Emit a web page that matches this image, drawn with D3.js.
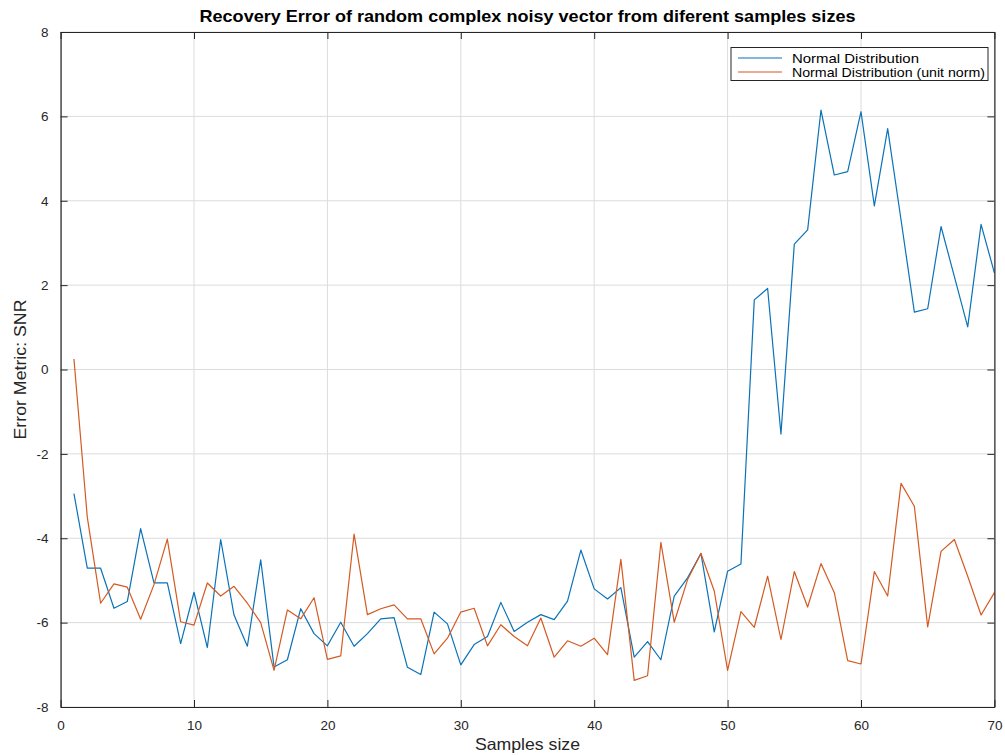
<!DOCTYPE html>
<html>
<head>
<meta charset="utf-8">
<script src="https://cdn.jsdelivr.net/npm/d3@7"></script>
<style>
  html, body { margin: 0; padding: 0; background: #fff; }
  svg { display: block; font-family: "Liberation Sans", Arial, sans-serif; }
</style>
</head>
<body>
<svg id="chart" width="1005" height="755"></svg>
<script>
// Sample sizes 1..70
const samples = [
  1,2,3,4,5,6,7,8,9,10,11,12,13,14,15,16,17,18,19,20,
  21,22,23,24,25,26,27,28,29,30,31,32,33,34,35,36,37,38,39,40,
  41,42,43,44,45,46,47,48,49,50,51,52,53,54,55,56,57,58,59,60,
  61,62,63,64,65,66,67,68,69,70
];

// SNR for the plain normal distribution
const snrNormal = [
  -2.94,-4.71,-4.71,-5.66,-5.50,-3.77,-5.06,-5.06,-6.50,-5.28,
  -6.59,-4.03,-5.82,-6.56,-4.51,-7.05,-6.88,-5.67,-6.26,-6.55,
  -5.99,-6.56,-6.26,-5.91,-5.88,-7.06,-7.23,-5.75,-6.03,-7.00,
  -6.52,-6.33,-5.52,-6.21,-5.99,-5.81,-5.93,-5.49,-4.28,-5.20,
  -5.44,-5.17,-6.82,-6.45,-6.88,-5.37,-4.94,-4.36,-6.22,-4.78,
  -4.61,1.65,1.92,-1.53,2.97,3.31,6.15,4.61,4.69,6.11,
  3.88,5.71,3.55,1.36,1.44,3.39,2.20,1.01,3.44,2.29
];

// SNR for the normal distribution scaled to unit norm
const snrUnitNorm = [
  0.25,-3.50,-5.54,-5.08,-5.16,-5.92,-5.10,-4.02,-5.98,-6.06,
  -5.06,-5.37,-5.14,-5.54,-6.00,-7.13,-5.70,-5.91,-5.41,-6.87,
  -6.79,-3.90,-5.81,-5.67,-5.58,-5.91,-5.91,-6.74,-6.37,-5.75,
  -5.66,-6.55,-6.05,-6.33,-6.55,-5.89,-6.82,-6.43,-6.56,-6.37,
  -6.76,-4.50,-7.37,-7.26,-4.10,-5.99,-4.98,-4.36,-5.25,-7.13,
  -5.74,-6.11,-4.90,-6.40,-4.79,-5.63,-4.60,-5.29,-6.90,-6.98,
  -4.79,-5.37,-2.70,-3.24,-6.10,-4.31,-4.03,-4.90,-5.82,-5.29
];

const xTicks = [0,10,20,30,40,50,60,70];
const yTicks = [-8,-6,-4,-2,0,2,4,6,8];

const seriesNames = ["Normal Distribution", "Normal Distribution (unit norm)"];
const seriesColors = ["#0a72b8", "#d45a22"];

const titleText = "Recovery Error of random complex noisy vector from diferent samples sizes";
const xLabel = "Samples size";
const yLabel = "Error Metric: SNR";

const svg = d3.select("#chart");
const plotLeft = 60.6, plotRight = 994.4, plotTop = 32, plotBottom = 707;
const axisColor = "#262626";

const x = d3.scaleLinear().domain([0, 70]).range([plotLeft, plotRight]);
const y = d3.scaleLinear().domain([-8, 8]).range([plotBottom, plotTop]);

// grid
const grid = svg.append("g");
grid.selectAll("line.gx").data(xTicks).join("line")
  .attr("class", "gx")
  .attr("x1", d => x(d)).attr("x2", d => x(d))
  .attr("y1", plotTop).attr("y2", plotBottom)
  .attr("stroke", "#dcdcdc").attr("stroke-width", 1);
grid.selectAll("line.gy").data(yTicks).join("line")
  .attr("class", "gy")
  .attr("y1", d => y(d)).attr("y2", d => y(d))
  .attr("x1", plotLeft).attr("x2", plotRight)
  .attr("stroke", "#dcdcdc").attr("stroke-width", 1);

// series lines
const line = d3.line().x((d, i) => x(samples[i])).y(d => y(d));
[snrNormal, snrUnitNorm].forEach((vals, k) => {
  svg.append("path")
    .datum(vals)
    .attr("d", line)
    .attr("fill", "none")
    .attr("stroke", seriesColors[k])
    .attr("stroke-width", 1.2)
    .attr("stroke-linejoin", "round");
});

// axes (box with inward ticks on all four sides)
const tickLen = 7;
const fmt = d => String(d);
const xAxisB = d3.axisBottom(x).tickValues(xTicks).tickFormat(fmt).tickSizeInner(-tickLen).tickSizeOuter(0).tickPadding(tickLen + 6);
const xAxisT = d3.axisTop(x).tickValues(xTicks).tickSizeInner(-tickLen).tickSizeOuter(0).tickFormat("");
const yAxisL = d3.axisLeft(y).tickValues(yTicks).tickFormat(fmt).tickSizeInner(-tickLen).tickSizeOuter(0).tickPadding(tickLen + 5);
const yAxisR = d3.axisRight(y).tickValues(yTicks).tickSizeInner(-tickLen).tickSizeOuter(0).tickFormat("");

function styleAxis(g) {
  g.select(".domain").attr("stroke", axisColor).attr("stroke-width", 1.2);
  g.selectAll(".tick line").attr("stroke", axisColor).attr("stroke-width", 1);
  g.selectAll(".tick text").attr("fill", axisColor).style("font-size", "13.5px")
    .style("font-family", "'Liberation Sans', Arial, sans-serif");
}
svg.append("g").attr("transform", `translate(0,${plotBottom})`).call(xAxisB).call(styleAxis);
svg.append("g").attr("transform", `translate(0,${plotTop})`).call(xAxisT).call(styleAxis);
svg.append("g").attr("transform", `translate(${plotLeft},0)`).call(yAxisL).call(styleAxis);
svg.append("g").attr("transform", `translate(${plotRight},0)`).call(yAxisR).call(styleAxis);

// title and axis labels
svg.append("text")
  .attr("x", (plotLeft + plotRight) / 2).attr("y", 22)
  .attr("text-anchor", "middle")
  .attr("font-weight", "bold")
  .attr("font-size", 16.5)
  .attr("textLength", 656)
  .attr("lengthAdjust", "spacingAndGlyphs")
  .attr("fill", "#000")
  .text(titleText);

svg.append("text")
  .attr("x", (plotLeft + plotRight) / 2).attr("y", 750)
  .attr("text-anchor", "middle")
  .attr("font-size", 16.5)
  .attr("textLength", 105)
  .attr("lengthAdjust", "spacingAndGlyphs")
  .attr("fill", axisColor)
  .text(xLabel);

svg.append("text")
  .attr("transform", `translate(26,${(plotTop + plotBottom) / 2}) rotate(-90)`)
  .attr("text-anchor", "middle")
  .attr("font-size", 16.5)
  .attr("textLength", 140)
  .attr("lengthAdjust", "spacingAndGlyphs")
  .attr("fill", axisColor)
  .text(yLabel);

// legend
const lg = svg.append("g");
lg.append("rect")
  .attr("x", 731).attr("y", 47.5).attr("width", 257).attr("height", 33)
  .attr("fill", "#fff").attr("stroke", axisColor).attr("stroke-width", 1);
const legendWidths = [127, 193];
seriesNames.forEach((name, k) => {
  const yy = 58 + k * 14;
  lg.append("line")
    .attr("x1", 738).attr("x2", 782).attr("y1", yy).attr("y2", yy)
    .attr("stroke", seriesColors[k]).attr("stroke-width", 1.2);
  lg.append("text")
    .attr("x", 792).attr("y", yy + 4.5)
    .attr("font-size", 13)
    .attr("textLength", legendWidths[k])
    .attr("lengthAdjust", "spacingAndGlyphs")
    .attr("fill", "#000")
    .text(name);
});
</script>
</body>
</html>
